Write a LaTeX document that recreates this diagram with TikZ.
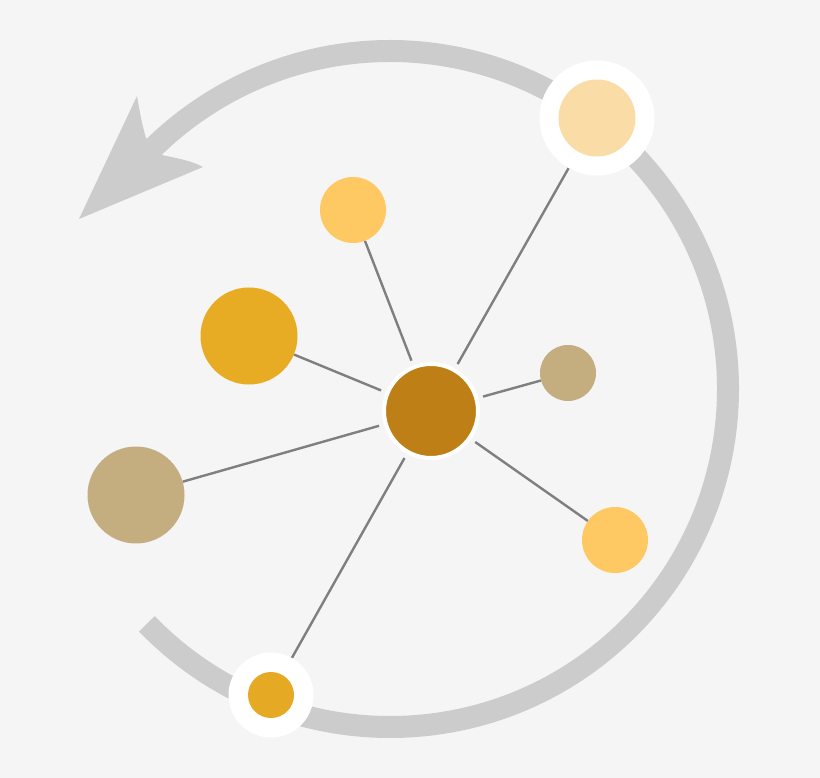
\documentclass[tikz,border=0pt]{standalone}
\begin{document}
\begin{tikzpicture}[x=1pt,y=-1pt,
  dot/.style={circle,inner sep=0pt,draw=none},
  edge/.style={draw=edgegray,line width=2.4pt},
  ring/.style={draw=ringgray,line width=22pt,line cap=butt}]
\definecolor{bg}{HTML}{F5F5F5}
\definecolor{ringgray}{HTML}{CCCCCC}
\definecolor{edgegray}{HTML}{7F7F7F}
\definecolor{hub}{HTML}{BF7F17}
\definecolor{gold}{HTML}{E8AB24}
\definecolor{sun}{HTML}{FEC963}
\definecolor{tan}{HTML}{C4AE80}
\definecolor{pale}{HTML}{FADCA6}
\definecolor{amber}{HTML}{E6A923}
\fill[bg] (0,0) rectangle (820,778);
\useasboundingbox (0,0) rectangle (820,778);
% ring with arrow
\coordinate (rc) at (390,389);
\draw[ring] (rc) ++(136:338) arc[start angle=136,end angle=-136.5,radius=338];
\fill[ringgray] (79,219) -- (137,96) .. controls (140,113) and (142,125) .. (146,138)
  -- (162,155) .. controls (175,158) and (190,160) .. (203,167) -- cycle;
% nodes
\node[dot,fill=white,minimum size=115pt] (tr) at (597,118) {};
\node[dot,fill=pale,minimum size=77pt] (tri) at (597,118) {};
\node[dot,fill=white,minimum size=85pt] (bl) at (271,695) {};
\node[dot,fill=amber,minimum size=46pt] (bli) at (271,695) {};
\node[dot,fill=hub,draw=white,line width=4pt,minimum size=94pt] (c) at (431,411) {};
\node[dot,fill=sun,minimum size=66pt] (t) at (353,210) {};
\node[dot,fill=gold,minimum size=97pt] (g) at (249,336) {};
\node[dot,fill=tan,minimum size=97pt] (l) at (136,495) {};
\node[dot,fill=tan,minimum size=56pt] (s) at (568,373) {};
\node[dot,fill=sun,minimum size=66pt] (r) at (615,540) {};
% edges
\foreach \n in {tr,bl,t,g,l,s,r}
  \draw[edge,shorten <=5pt] (c) -- (\n);
\end{tikzpicture}
\end{document}
